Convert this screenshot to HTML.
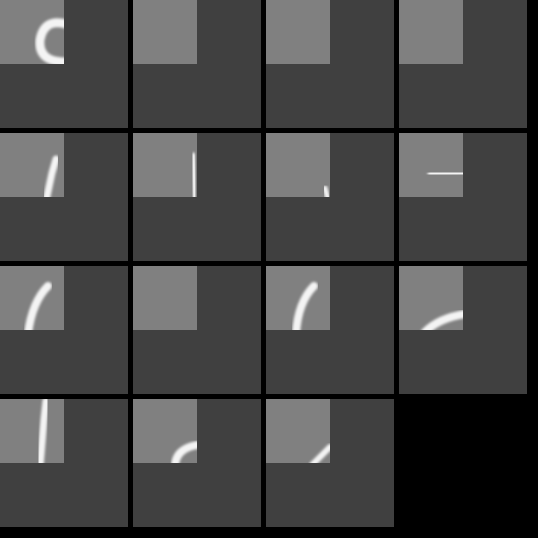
<!DOCTYPE html>
<html><head><meta charset="utf-8"><style>
html,body{margin:0;padding:0;background:#000;width:538px;height:538px;overflow:hidden}
svg{display:block}
</style></head><body>
<svg id="grid" width="538" height="538" viewBox="0 0 538 538" xmlns="http://www.w3.org/2000/svg">
<defs><filter id="b" x="-20%" y="-20%" width="140%" height="140%"><feGaussianBlur stdDeviation="1.3"/></filter>
<clipPath id="c"><rect x="0" y="0" width="64" height="64"/></clipPath></defs>
<rect width="538" height="538" fill="#000"/>
</svg>
<script>
const strokes = [
 ["M66,24 Q44,18 40,40 Q38,62 66,62", 9],
 ["M62,17 L62,66", 5],
 ["", 0],
 ["", 0],
 ["M46,68 L52,40 L56,26", 7],
 ["M60,22 L62,66", 5],
 ["M59,55 L62,66", 5],
 ["M32,41 L64,40", 7],
 ["M28,68 Q32,36 48,20", 8],
 ["", 0],
 ["M30,68 Q32,36 48,20", 8],
 ["M26,66 Q40,52 66,48", 8],
 ["M40,68 L44,20 L46,2", 7],
 ["M42,68 Q42,50 64,46", 8],
 ["M46,66 L64,48", 6]
];
const svg = document.getElementById('grid');
const NS = 'http://www.w3.org/2000/svg';
strokes.forEach((s, i) => {
  const g = document.createElementNS(NS, 'g');
  
  
  g.setAttribute('transform', `translate(${(i % 4) * 133},${Math.floor(i / 4) * 133})`);
  const bg = document.createElementNS(NS, 'rect');
  bg.setAttribute('width', 128); bg.setAttribute('height', 128); bg.setAttribute('fill', '#404040');
  g.appendChild(bg);
  const sq = document.createElementNS(NS, 'rect');
  sq.setAttribute('width', 64); sq.setAttribute('height', 64); sq.setAttribute('fill', '#808080');
  g.appendChild(sq);
  if (s[0]) {
    const cg = document.createElementNS(NS, 'g');
    cg.setAttribute('clip-path', 'url(#c)');
    const p = document.createElementNS(NS, 'path');
    
    
    p.setAttribute('d', s[0]);
    p.setAttribute('fill', 'none');
    p.setAttribute('stroke', '#f4f4f4');
    p.setAttribute('stroke-width', s[1]);
    p.setAttribute('stroke-linecap', 'round');
    p.setAttribute('filter', 'url(#b)');
    cg.appendChild(p);
    g.appendChild(cg);
  }
  svg.appendChild(g);
});
</script>
</body></html>
